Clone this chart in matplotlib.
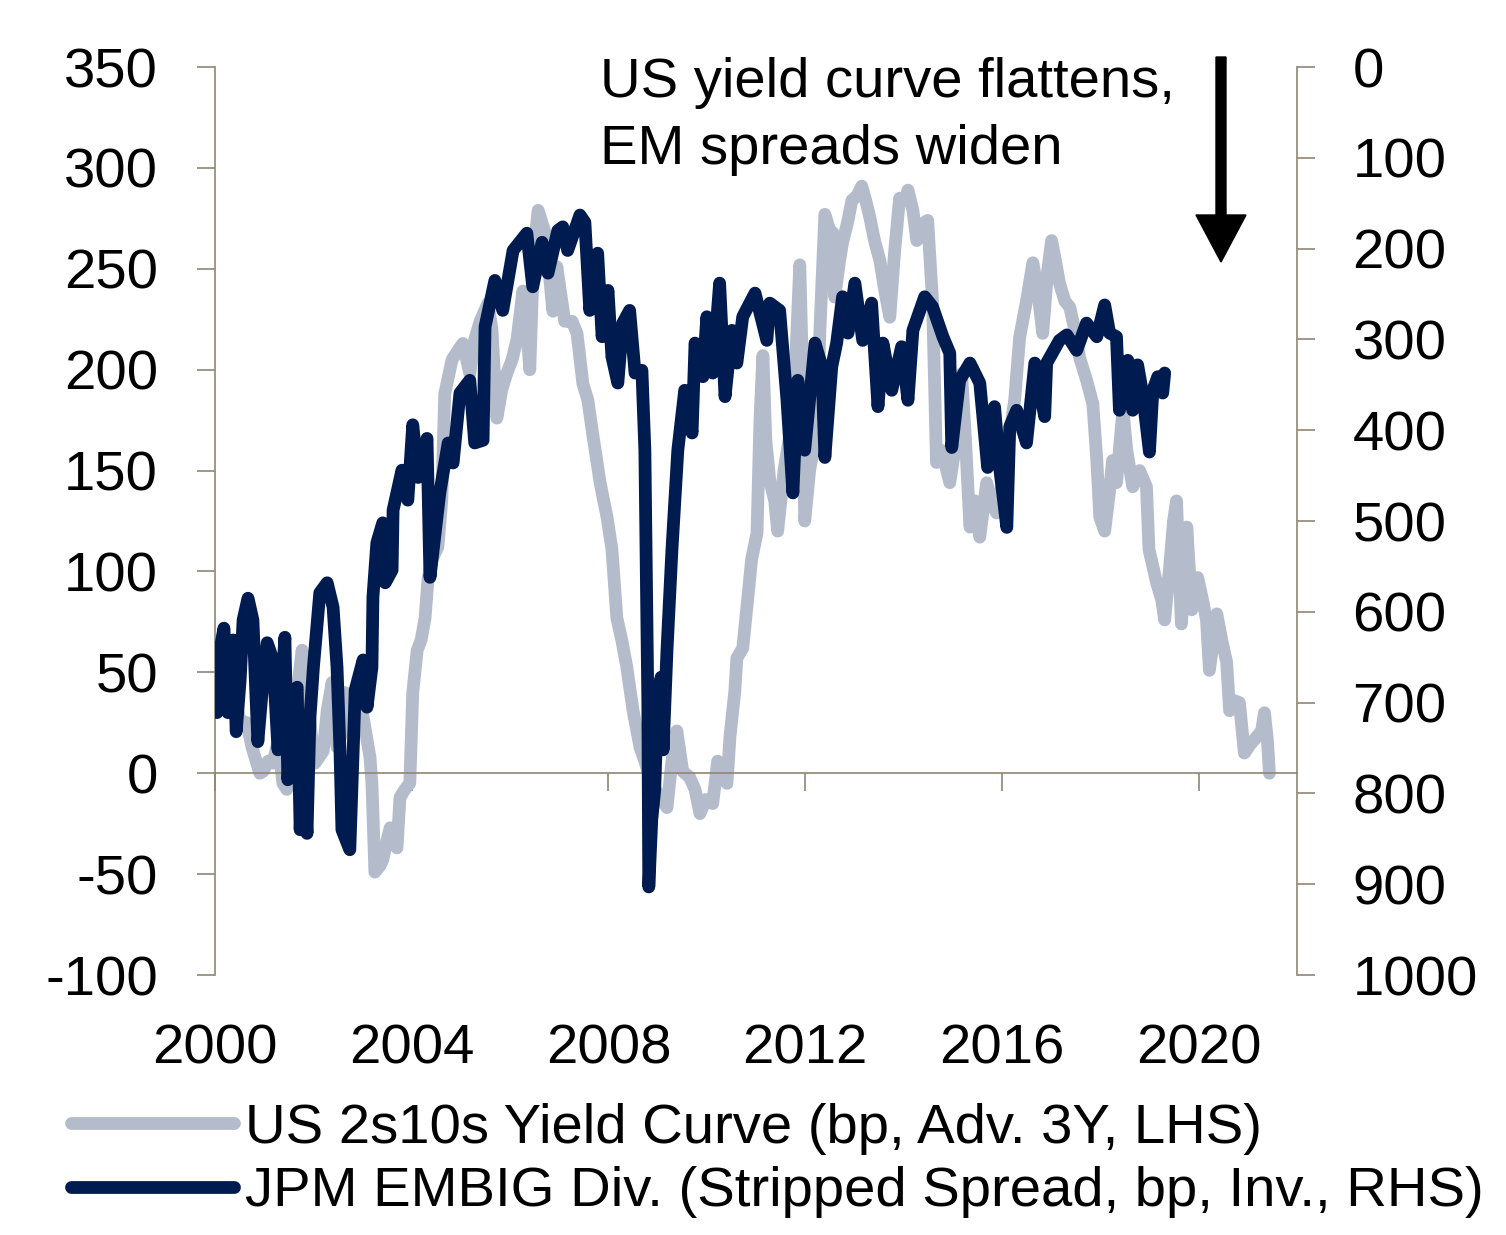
import matplotlib
matplotlib.use("Agg")
import matplotlib.pyplot as plt
from matplotlib.patches import FancyArrow

plt.rcParams['font.family'] = ['Liberation Sans', 'DejaVu Sans']
plt.rcParams['axes.unicode_minus'] = False

# ---- data ----
gray_year = [2000.00, 2000.04, 2000.14, 2000.26, 2000.41, 2000.51, 2000.65, 2000.75, 2000.91, 2000.98,
             2001.08, 2001.18, 2001.28, 2001.38, 2001.46, 2001.52, 2001.65, 2001.77, 2001.87, 2001.95,
             2002.03, 2002.20, 2002.28, 2002.38, 2002.48, 2002.58, 2002.64, 2002.74, 2002.89, 2003.01,
             2003.15, 2003.19, 2003.25, 2003.35, 2003.41, 2003.50, 2003.56, 2003.70, 2003.76, 2003.86,
             2003.96, 2004.02, 2004.11, 2004.19, 2004.27, 2004.33, 2004.41, 2004.53, 2004.61, 2004.67,
             2004.82, 2004.98, 2005.04, 2005.18, 2005.28, 2005.39, 2005.55, 2005.63, 2005.73, 2005.83,
             2005.93, 2006.04, 2006.14, 2006.26, 2006.34, 2006.40, 2006.48, 2006.57, 2006.71, 2006.81,
             2006.87, 2006.95, 2007.11, 2007.26, 2007.36, 2007.48, 2007.58, 2007.68, 2007.83, 2007.97,
             2008.07, 2008.17, 2008.27, 2008.37, 2008.50, 2008.64, 2008.74, 2008.84, 2008.94, 2009.04,
             2009.19, 2009.29, 2009.39, 2009.45, 2009.51, 2009.65, 2009.76, 2009.86, 2009.98, 2010.12,
             2010.22, 2010.33, 2010.41, 2010.47, 2010.57, 2010.61, 2010.73, 2010.83, 2010.91, 2011.02,
             2011.08, 2011.14, 2011.20, 2011.28, 2011.38, 2011.44, 2011.57, 2011.69, 2011.79, 2011.89,
             2011.95, 2011.99, 2012.09, 2012.24, 2012.30, 2012.40, 2012.50, 2012.56, 2012.60, 2012.70,
             2012.76, 2012.87, 2012.95, 2013.05, 2013.15, 2013.23, 2013.31, 2013.41, 2013.52, 2013.62,
             2013.72, 2013.82, 2013.92, 2014.02, 2014.09, 2014.19, 2014.27, 2014.37, 2014.49, 2014.59,
             2014.67, 2014.78, 2014.94, 2015.04, 2015.18, 2015.26, 2015.35, 2015.45, 2015.55, 2015.69,
             2015.79, 2015.89, 2016.02, 2016.16, 2016.26, 2016.36, 2016.50, 2016.63, 2016.73, 2016.83,
             2016.93, 2017.01, 2017.09, 2017.17, 2017.28, 2017.38, 2017.48, 2017.58, 2017.72, 2017.85,
             2017.93, 2017.99, 2018.09, 2018.19, 2018.25, 2018.33, 2018.46, 2018.54, 2018.66, 2018.80,
             2018.94, 2018.99, 2019.15, 2019.25, 2019.31, 2019.41, 2019.49, 2019.55, 2019.65, 2019.76,
             2019.86, 2019.98, 2020.08, 2020.16, 2020.22, 2020.37, 2020.47, 2020.57, 2020.63, 2020.73,
             2020.83, 2020.93, 2021.04, 2021.18, 2021.28, 2021.34, 2021.40, 2021.44]
gray_val = [61, 36, 56, 41, 36, 26, 25, 13, 0, 1,
            6, 5, 16, -5, -8, 11, 36, 61, 41, 21,
            5, 11, 31, 45, 13, 20, 40, 23, 31, 28,
            8, -5, -49, -46, -43, -33, -27, -37, -12, -8,
            -5, 40, 61, 66, 77, 96, 106, 112, 135, 188,
            205, 211, 213, 198, 215, 224, 233, 220, 176, 190,
            198, 205, 215, 239, 220, 200, 259, 279, 268, 244,
            229, 251, 224, 224, 218, 193, 185, 168, 144, 127,
            111, 77, 66, 53, 31, 13, 6, -2, -8, -11,
            -17, 6, 21, 11, 1, -2, -8, -20, -13, -15,
            6, -1, -5, 18, 41, 57, 62, 86, 106, 119,
            175, 207, 165, 145, 135, 120, 150, 168, 195, 252,
            195, 125, 150, 171, 220, 277, 269, 268, 236, 254,
            263, 274, 284, 286, 291, 284, 276, 264, 254, 239,
            226, 259, 285, 284, 289, 279, 264, 272, 274, 234,
            154, 160, 144, 160, 198, 165, 122, 135, 117, 144,
            135, 129, 145, 168, 185, 216, 234, 253, 239, 218,
            249, 264, 254, 243, 234, 231, 220, 206, 195, 183,
            155, 127, 120, 140, 155, 144, 180, 160, 142, 150,
            142, 111, 94, 86, 76, 102, 125, 135, 74, 122,
            81, 97, 86, 76, 51, 79, 66, 55, 31, 36,
            35, 10, 14, 18, 21, 30, 16, 0]

navy_year = [2000.00, 2000.04, 2000.10, 2000.18, 2000.26, 2000.33, 2000.37, 2000.43, 2000.51, 2000.57,
             2000.67, 2000.77, 2000.87, 2000.96, 2001.06, 2001.18, 2001.28, 2001.42, 2001.48, 2001.59,
             2001.67, 2001.73, 2001.79, 2001.87, 2001.93, 2002.00, 2002.13, 2002.28, 2002.40, 2002.48,
             2002.54, 2002.58, 2002.74, 2002.80, 2002.85, 2003.01, 2003.09, 2003.19, 2003.21, 2003.29,
             2003.41, 2003.46, 2003.60, 2003.62, 2003.80, 2003.92, 2004.02, 2004.13, 2004.31, 2004.37,
             2004.57, 2004.74, 2004.84, 2004.98, 2005.18, 2005.28, 2005.45, 2005.49, 2005.69, 2005.85,
             2006.06, 2006.34, 2006.46, 2006.65, 2006.77, 2006.97, 2007.07, 2007.17, 2007.42, 2007.52,
             2007.62, 2007.78, 2007.87, 2007.99, 2008.07, 2008.19, 2008.29, 2008.43, 2008.54, 2008.68,
             2008.74, 2008.80, 2008.82, 2008.88, 2008.94, 2009.00, 2009.07, 2009.11, 2009.19, 2009.29,
             2009.41, 2009.55, 2009.70, 2009.76, 2009.92, 2010.00, 2010.12, 2010.26, 2010.37, 2010.51,
             2010.61, 2010.73, 2010.98, 2011.22, 2011.28, 2011.48, 2011.63, 2011.75, 2011.85, 2011.99,
             2012.20, 2012.34, 2012.40, 2012.54, 2012.64, 2012.76, 2012.87, 2013.01, 2013.17, 2013.35,
             2013.48, 2013.58, 2013.76, 2013.96, 2014.09, 2014.19, 2014.43, 2014.59, 2014.80, 2014.94,
             2014.98, 2015.14, 2015.35, 2015.55, 2015.71, 2015.85, 2015.96, 2016.10, 2016.16, 2016.30,
             2016.50, 2016.67, 2016.87, 2016.91, 2017.17, 2017.32, 2017.52, 2017.72, 2017.93, 2018.09,
             2018.19, 2018.33, 2018.39, 2018.56, 2018.66, 2018.76, 2018.86, 2019.00, 2019.07, 2019.17,
             2019.27, 2019.31]
navy_val = [642, 711, 642, 618, 711, 653, 631, 732, 675, 609,
            585, 609, 743, 686, 634, 653, 752, 628, 785, 697,
            683, 840, 763, 844, 716, 661, 579, 568, 595, 661,
            752, 840, 862, 767, 686, 653, 705, 661, 584, 524,
            502, 568, 554, 488, 444, 477, 394, 452, 409, 562,
            469, 414, 436, 359, 345, 414, 411, 286, 235, 268,
            202, 183, 242, 193, 227, 180, 176, 202, 163, 171,
            268, 205, 297, 246, 319, 348, 282, 268, 337, 334,
            422, 697, 903, 829, 796, 697, 672, 752, 642, 532,
            422, 356, 403, 304, 341, 275, 337, 238, 363, 290,
            326, 275, 249, 301, 260, 268, 367, 469, 345, 422,
            304, 330, 430, 330, 304, 253, 293, 238, 301, 260,
            374, 304, 356, 308, 367, 290, 253, 264, 297, 315,
            419, 345, 326, 348, 441, 374, 444, 507, 396, 378,
            414, 326, 385, 326, 301, 295, 312, 282, 297, 262,
            293, 297, 378, 323, 378, 328, 359, 424, 356, 341,
            359, 337]

x_ticks = [2000, 2004, 2008, 2012, 2016, 2020]
left_ticks = [-100, -50, 0, 50, 100, 150, 200, 250, 300, 350]
right_ticks = [0, 100, 200, 300, 400, 500, 600, 700, 800, 900, 1000]
label_gray = "US 2s10s Yield Curve (bp, Adv. 3Y, LHS)"
label_navy = "JPM EMBIG Div. (Stripped Spread, bp, Inv., RHS)"
annot_lines = ["US yield curve flattens,", "EM spreads widen"]

# ---- style ----
GRAY = '#b4bccb'
NAVY = '#001b50'
SPINE = '#8f8573'
FS = 40.5
LW = 9.2

fig = plt.figure(figsize=(15.06, 12.35), dpi=100)
ax = fig.add_axes([0.1428, 0.2105, 0.7184, 0.7352])

l1, = ax.plot(gray_year, gray_val, color=GRAY, lw=LW,
              solid_joinstyle='round', solid_capstyle='round', label=label_gray)
ax.set_xlim(2000, 2022)
ax.set_ylim(-100, 350)
ax.set_yticks(left_ticks)
ax.set_xticks(x_ticks)

for s in ['top', 'right']:
    ax.spines[s].set_visible(False)
ax.spines['left'].set_color(SPINE)
ax.spines['left'].set_linewidth(1.2)
ax.spines['bottom'].set_position(('data', 0))
ax.spines['bottom'].set_color(SPINE)
ax.spines['bottom'].set_linewidth(1.2)
ax.tick_params(axis='y', direction='out', length=13, width=1.2, color=SPINE,
               pad=28, labelsize=FS, labelcolor='black')
ax.tick_params(axis='x', direction='out', length=13, width=1.2, color=SPINE,
               labelbottom=False)

sec = ax.secondary_xaxis('bottom')
sec.set_xticks(x_ticks)
sec.set_xticklabels([str(t) for t in x_ticks])
sec.tick_params(length=0, pad=35, labelsize=FS)
sec.spines['bottom'].set_visible(False)

ax2 = ax.twinx()
l2, = ax2.plot(navy_year, navy_val, color=NAVY, lw=LW,
               solid_joinstyle='round', solid_capstyle='round', label=label_navy)
ax2.set_ylim(1000, 0)
ax2.set_yticks(right_ticks)
for s in ['top', 'left', 'bottom']:
    ax2.spines[s].set_visible(False)
ax2.spines['right'].set_color(SPINE)
ax2.spines['right'].set_linewidth(1.2)
ax2.tick_params(axis='y', direction='out', length=13, width=1.2, color=SPINE,
                pad=27, labelsize=FS, labelcolor='black')

# annotation text
fig.text(600 / 1506, 1 - 97 / 1235, annot_lines[0], fontsize=FS, ha='left', va='baseline')
fig.text(600 / 1506, 1 - 164 / 1235, annot_lines[1], fontsize=FS, ha='left', va='baseline')

# arrow
fig.add_artist(FancyArrow(1221 / 1506, 1 - 57 / 1235, 0, -(262 - 57) / 1235,
                          width=10 / 1506, head_width=50 / 1506, head_length=47 / 1235,
                          length_includes_head=True, color='black',
                          transform=fig.transFigure))

# legend
fig.legend([l1, l2], [label_gray, label_navy], loc='upper left',
           bbox_to_anchor=(71 / 1506, 1 - 1103 / 1235), frameon=False, fontsize=FS,
           handlelength=2.9, handletextpad=0.2, labelspacing=0.2,
           borderpad=0, borderaxespad=0)

fig.savefig('out.png', dpi=100)
